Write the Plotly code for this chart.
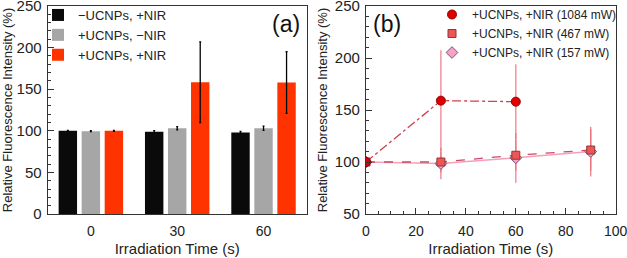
import plotly.graph_objects as go

# ---- Panel (a) data ----
times_a = ["0", "30", "60"]
neg_ucnp_nir = [100, 99, 98]
neg_ucnp_nir_err = [0.6, 1.2, 1.2]
ucnp_no_nir = [99.5, 103, 103]
ucnp_no_nir_err = [0.6, 2.0, 2.5]
ucnp_nir = [100, 158.5, 158]
ucnp_nir_err = [0.6, 48.5, 37]
labels_a = ["\u2212UCNPs, +NIR", "+UCNPs, \u2212NIR", "+UCNPs, +NIR"]

# ---- Panel (b) data ----
t_1084 = [0, 30, 60]
y_1084 = [100, 159, 158]
e_1084 = [0.5, 48.5, 36]
t_467 = [0, 30, 60, 90]
y_467 = [100, 100, 106.5, 111.5]
e_467 = [0.5, 10, 15, 20]
t_157 = [0, 30, 60, 90]
y_157 = [100, 98.5, 104, 110]
e_157 = [0.5, 15, 24, 24]
labels_b = ["+UCNPs, +NIR (1084 mW)", "+UCNPs, +NIR (467 mW)", "+UCNPs, +NIR (157 mW)"]

FONT = "Liberation Sans"
fig = go.Figure()

bar_colors = ["#0a0a0a", "#a6a6a6", "#ff3300"]
for vals, errs, name, col in zip([neg_ucnp_nir, ucnp_no_nir, ucnp_nir],
                                 [neg_ucnp_nir_err, ucnp_no_nir_err, ucnp_nir_err],
                                 labels_a, bar_colors):
    fig.add_trace(go.Bar(x=times_a, y=vals, name=name, marker=dict(color=col, line=dict(width=0)),
                         error_y=dict(type="data", array=errs, color="#000000", thickness=1.3, width=1),
                         xaxis="x", yaxis="y", legend="legend"))

err_col = "rgba(235,110,120,0.85)"
series_b = [
    (t_157, y_157, e_157, labels_b[2], dict(color="#f4a0b8", width=1.5),
     dict(symbol="diamond", size=9, color="#f2a3c9", line=dict(color="#8a4a6a", width=1))),
    (t_467, y_467, e_467, labels_b[1], dict(color="#c84a66", width=1.3, dash="dash"),
     dict(symbol="square", size=8, color="#f05555", line=dict(color="#8a3a3a", width=1))),
    (t_1084, y_1084, e_1084, labels_b[0], dict(color="#d04050", width=1.3, dash="dashdot"),
     dict(symbol="circle", size=9, color="#e00000", line=dict(color="#900000", width=1))),
]
# error bars (no legend), then lines (no legend), then markers (legend)
for t, y, e, name, ln, mk in series_b:
    fig.add_trace(go.Scatter(x=t, y=y, mode="markers", marker=dict(size=0.1, opacity=0),
                             error_y=dict(type="data", array=e, color=err_col, thickness=1.3, width=0),
                             showlegend=False, xaxis="x2", yaxis="y2", hoverinfo="skip"))
for t, y, e, name, ln, mk in series_b:
    fig.add_trace(go.Scatter(x=t, y=y, mode="lines", line=ln, showlegend=False,
                             xaxis="x2", yaxis="y2", hoverinfo="skip"))
for t, y, e, name, ln, mk in series_b:
    fig.add_trace(go.Scatter(x=t, y=y, name=name, mode="markers", marker=mk,
                             xaxis="x2", yaxis="y2", legend="legend2"))

axis_common = dict(showline=True, mirror=True, linecolor="#333333", linewidth=1.2,
                   showgrid=False, zeroline=False, ticklabeloverflow="allow")
ytick_font = dict(family=FONT, size=15, color="#222")
xtick_font = dict(family=FONT, size=14, color="#222")
ytitle_font = dict(family=FONT, size=13, color="#222")
xtitle_font = dict(family=FONT, size=15, color="#222")

ydom = [1 - 214 / 258, 1 - 6 / 258]
fig.update_layout(
    width=627, height=258,
    margin=dict(l=0, r=0, t=0, b=0, autoexpand=False),
    paper_bgcolor="white", plot_bgcolor="white",
    barmode="group", bargap=0.2, bargroupgap=0.2,
    font=dict(family=FONT, color="#222"),
    xaxis=dict(domain=[47.7 / 627, 306.7 / 627], anchor="y", ticks="", ticklabelstandoff=4,
               tickfont=xtick_font,
               title=dict(text="Irradiation Time (s)", standoff=5, font=xtitle_font), **axis_common),
    yaxis=dict(domain=ydom, anchor="x", range=[0, 250], dtick=50, ticks="inside", ticklen=6,
               tickcolor="#333", tickfont=ytick_font, ticklabelstandoff=2,
               minor=dict(dtick=10, ticks="inside", ticklen=3, tickcolor="#333"),
               title=dict(text="Relative Fluorescence Intensity (%)", standoff=4, font=ytitle_font),
               **axis_common),
    xaxis2=dict(domain=[366 / 627, 615.7 / 627], anchor="y2", range=[0, 100], dtick=20,
                ticks="inside", ticklen=6, tickcolor="#333", ticklabelstandoff=4,
                tickfont=xtick_font,
                minor=dict(dtick=5, ticks="inside", ticklen=3, tickcolor="#333"),
                title=dict(text="Irradiation Time (s)", standoff=5, font=xtitle_font), **axis_common),
    yaxis2=dict(domain=ydom, anchor="x2", range=[50, 250], dtick=50, ticks="inside", ticklen=6,
                tickcolor="#333", tickfont=ytick_font, ticklabelstandoff=2,
                minor=dict(dtick=10, ticks="inside", ticklen=3, tickcolor="#333"),
                title=dict(text="Relative Fluorescence Intensity (%)", standoff=4, font=ytitle_font),
                **axis_common),
    legend=dict(x=38 / 627, y=1.0, xanchor="left", yanchor="top", bgcolor="rgba(0,0,0,0)",
                font=dict(family=FONT, size=13, color="#222"), tracegroupgap=0, itemwidth=30,
                traceorder="normal"),
    legend2=dict(x=1 - 5 / 627, y=1.0, xanchor="right", yanchor="top", bgcolor="rgba(0,0,0,0)",
                 font=dict(family=FONT, size=12, color="#222"), traceorder="reversed",
                 tracegroupgap=0, itemwidth=30),
    showlegend=True,
    annotations=[
        dict(text="(a)", x=302 / 627, y=1 - 24 / 258, xref="paper", yref="paper", xanchor="right",
             yanchor="middle", showarrow=False, font=dict(family=FONT, size=23, color="#111")),
        dict(text="(b)", x=371 / 627, y=1 - 24 / 258, xref="paper", yref="paper", xanchor="left",
             yanchor="middle", showarrow=False, font=dict(family=FONT, size=23, color="#111")),
    ],
)

fig.write_html("out.html", config={"displayModeBar": False},
               post_script="document.body.style.margin='0px';document.body.style.overflow='hidden';")
